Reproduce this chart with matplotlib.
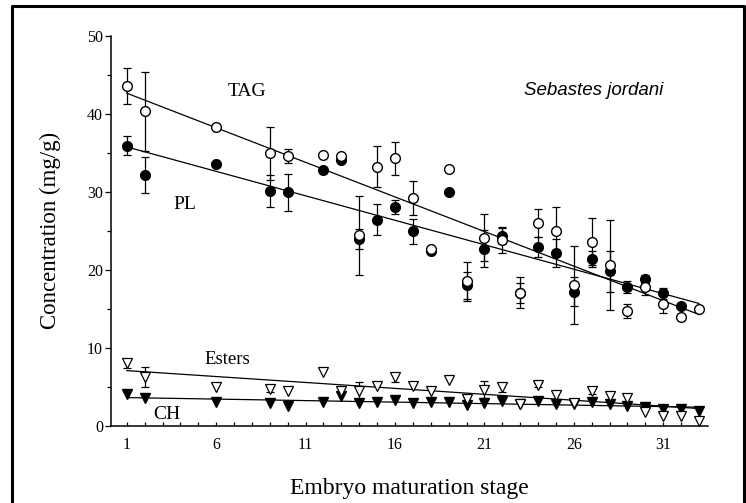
import numpy as np
import matplotlib
matplotlib.use("Agg")
import matplotlib.pyplot as plt
from matplotlib.ticker import MultipleLocator, FixedLocator

nan = np.nan

stage = [1, 2, 6, 9, 10, 12, 13, 14, 15, 16, 17, 18, 19, 20, 21, 22, 23,
         24, 25, 26, 27, 28, 29, 30, 31, 32, 33]

tag = [43.6, 40.3, 38.3, 34.9, 34.6, 34.7, 34.6, 24.4, 33.2, 34.3, 29.2, 22.6, 32.9, 18.55,
       24.1, 23.8, 17.05, 26.0, 25.0, 18.0, 23.6, 20.6, 14.7, 17.8, 15.6, 13.9, 14.9]
tag_err = [2.3, 5.1, nan, 3.4, 0.9, nan, nan, 5.1, 2.6, 2.1, 2.2, nan, nan, 2.5,
           3.0, 1.7, 2.0, 1.8, 3.0, 5.0, 3.0, 5.8, 0.9, 1.0, 1.2, 0.4, nan]

pl = [35.9, 32.1, 33.5, 30.1, 29.9, 32.8, 34.1, 23.9, 26.4, 28.0, 24.9, 22.4, 29.9, 18.0,
      22.7, 24.3, 17.0, 22.9, 22.2, 17.2, 21.4, 19.8, 17.8, 18.8, 17.0, 15.3, nan]
pl_err = [1.2, 2.3, nan, 2.0, 2.35, nan, nan, 1.3, 2.0, 0.9, 1.6, nan, nan, 1.7,
          2.4, 1.0, 1.3, 1.3, 1.8, 1.8, 1.0, 2.6, 0.8, 0.5, 0.7, nan, nan]

esters = [8.0, 6.2, 5.0, 4.7, 4.4, 6.9, 4.5, 4.4, 5.1, 6.2, 5.1, 4.5, 5.9, 3.4,
          4.6, 4.9, 2.8, 5.2, 3.9, 2.9, 4.4, 3.85, 3.5, 1.7, 1.3, 1.3, 0.65]
esters_err = [0.6, 1.3, nan, 0.4, nan, nan, nan, 1.2, nan, 0.6, nan, nan, nan, nan,
              1.1, 0.6, nan, 0.3, nan, nan, 0.3, nan, nan, nan, nan, nan, nan]

ch = [4.0, 3.5, 3.1, 2.9, 2.5, 3.1, 3.8, 2.9, 3.0, 3.3, 2.9, 3.0, 3.1, 2.65,
      2.9, 3.2, 2.8, 3.2, 2.8, 2.8, 3.0, 2.75, 2.5, 2.35, 2.1, 2.1, 1.9]

x = np.array(stage, dtype=float)

plt.rcParams['font.family'] = ['Liberation Serif', 'DejaVu Serif']

fig = plt.figure(figsize=(7.46, 5.03), dpi=100)
ax = fig.add_axes([0.1488, 0.1537, 0.949 - 0.1488, 0.929 - 0.1537])

# outer frame (no bottom edge)
fig.add_artist(plt.Line2D([0.0161, 0.0161, 0.9973, 0.9973], [0.0, 0.9871, 0.9871, 0.0],
                          transform=fig.transFigure, color='black', lw=2.2))

# regression lines
for vals in (tag, pl, esters, ch):
    v = np.array(vals, dtype=float)
    ok = ~np.isnan(v)
    k, b = np.polyfit(x[ok], v[ok], 1)
    xx = np.array([1, 33])
    ax.plot(xx, k * xx + b, color='black', lw=0.9, zorder=2)

ebkw = dict(fmt='none', ecolor='black', elinewidth=0.9, capsize=3, capthick=0.9, zorder=3)
ax.errorbar(x, pl, yerr=pl_err, **ebkw)
ax.errorbar(x, tag, yerr=tag_err, **ebkw)
ax.errorbar(x, esters, yerr=esters_err, **ebkw)

ax.plot(x, pl, 'o', ms=7, mfc='black', mec='black', mew=1, zorder=4)
ax.plot(x, tag, 'o', ms=7, mfc='white', mec='black', mew=1, zorder=5)
ax.plot(x, ch, 'v', ms=6.5, mfc='black', mec='black', mew=1, zorder=4)
ax.plot(x, esters, 'v', ms=6.5, mfc='white', mec='black', mew=0.9, zorder=5)

ax.text(7.7, 42.8, 'TAG', fontsize=14, ha='center', va='center')
ax.text(4.26, 28.3, 'PL', fontsize=14, ha='center', va='center')
ax.text(6.6, 8.5, 'Esters', fontsize=13.5, ha='center', va='center')
ax.text(3.27, 1.4, 'CH', fontsize=14, ha='center', va='center')
ax.text(27.1, 43.0, 'Sebastes jordani', fontsize=13.5, ha='center', va='center',
        family=['Liberation Sans', 'DejaVu Sans'], style='italic')

ax.set_xlim(0.12, 33.5)
ax.set_ylim(0, 50)
for s in ('top', 'right'):
    ax.spines[s].set_visible(False)
ax.spines['left'].set_bounds(0, 50)
ax.spines['left'].set_linewidth(1.1)
ax.spines['bottom'].set_linewidth(1.1)

ax.xaxis.set_major_locator(FixedLocator([1, 6, 11, 16, 21, 26, 31]))
ax.xaxis.set_minor_locator(MultipleLocator(1))
ax.yaxis.set_major_locator(MultipleLocator(10))
ax.yaxis.set_minor_locator(MultipleLocator(5))
ax.tick_params(axis='x', which='both', direction='in', length=2.6, width=0.9, pad=8, labelsize=11.5)
ax.tick_params(axis='y', which='major', direction='out', length=4.3, width=0.9, pad=1.5, labelsize=11.5)
ax.tick_params(axis='y', which='minor', direction='out', length=3, width=0.9)

ax.set_xlabel('Embryo maturation stage', fontsize=17, labelpad=18)
ax.set_ylabel('Concentration (mg/g)', fontsize=16.5, labelpad=19)

fig.savefig('out.png', dpi=100)
